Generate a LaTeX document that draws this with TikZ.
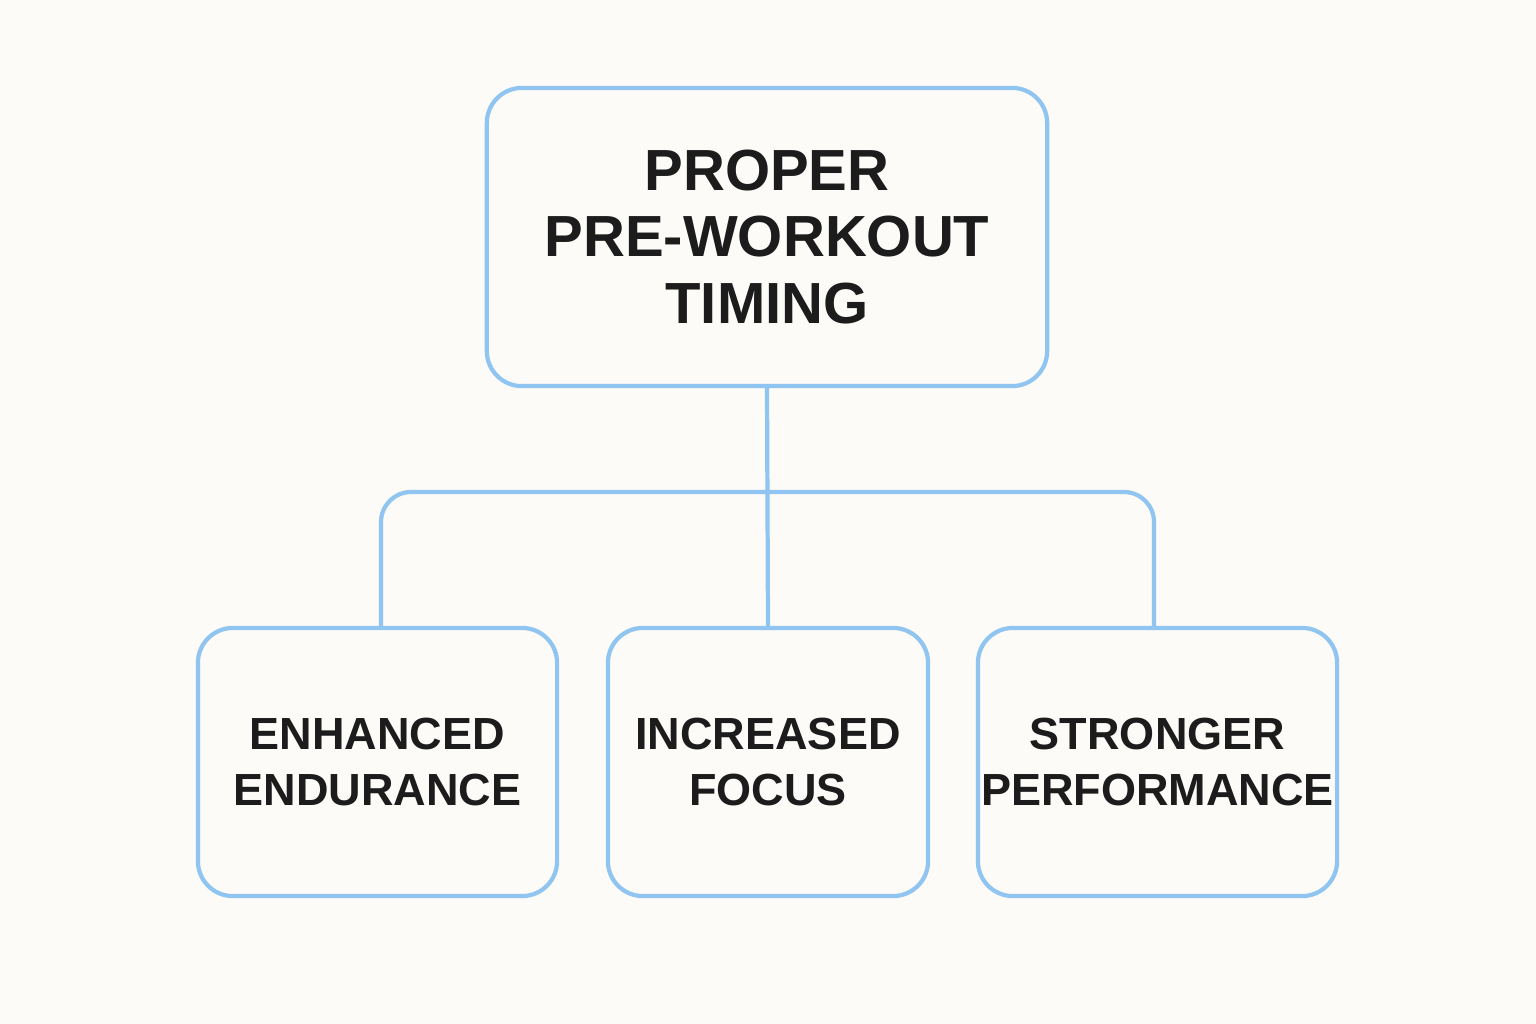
\documentclass[tikz,border=0pt]{standalone}
\usepackage{fontspec}
\setmainfont{Liberation Sans}
\definecolor{boxblue}{HTML}{90C5F2}
\definecolor{paper}{HTML}{FCFBF7}
\definecolor{ink}{HTML}{1C1C1C}
\tikzset{
  topbox/.style={draw=boxblue,line width=1.2pt,rounded corners=0.35cm,inner sep=0pt,minimum width=5.6cm,minimum height=2.98cm,align=center,text=ink,font=\fontsize{16.5}{19}\selectfont\bfseries},
  leafbox/.style={draw=boxblue,line width=1.2pt,rounded corners=0.35cm,inner sep=0pt,minimum height=2.68cm,align=center,text=ink,font=\fontsize{12.8}{16}\selectfont\bfseries},
  link/.style={draw=boxblue,line width=1.2pt}
}
\begin{document}
\begin{tikzpicture}[x=0.01cm,y=-0.01cm]
\fill[paper] (0,0) rectangle (1536,1024);
\useasboundingbox (0,0) rectangle (1536,1024);
\node[topbox] (top) at (767,237) {PROPER\\PRE-WORKOUT\\TIMING};
\node[leafbox,minimum width=3.59cm] (endur) at (377.5,762) {ENHANCED\\ENDURANCE};
\node[leafbox,minimum width=3.2cm] (focus) at (768,762) {INCREASED\\FOCUS};
\node[leafbox,minimum width=3.59cm] (perf) at (1157.5,762) {STRONGER\\PERFORMANCE};
\coordinate (hub) at (767,492);
\draw[link] (top.south) -- (focus.north);
\draw[link,rounded corners=0.3cm] (endur.north -| 381,0) |- (hub) -| (perf.north -| 1154,0);
\end{tikzpicture}
\end{document}
